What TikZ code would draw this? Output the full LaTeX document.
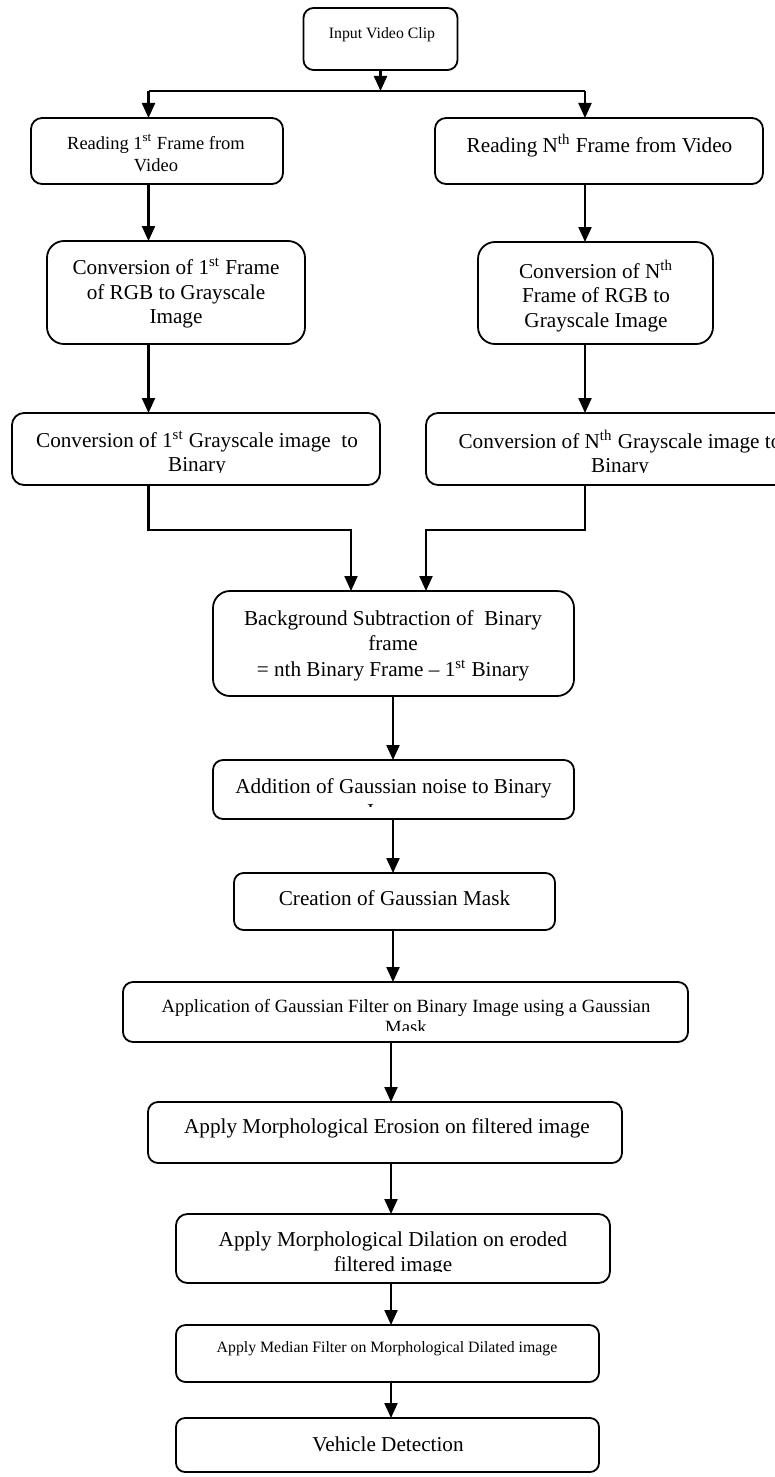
\documentclass[tikz,border=0pt]{standalone}
\usepackage{fontspec}
\setmainfont{Liberation Serif}
\usetikzlibrary{arrows.meta}
\begin{document}
\begin{tikzpicture}[x=0.5pt,y=-0.5pt,
  box/.style={draw=black, line width=0.9pt, inner sep=0pt, outer sep=0pt},
  arr/.style={line width=1.1pt, -{Triangle[width=6.5pt,length=7.5pt]}},
  ln/.style={line width=1.1pt},
  tL/.style={inner sep=0pt, anchor=north, align=center, font=\fontsize{10.6pt}{12.25pt}\selectfont},
  tB/.style={inner sep=0pt, anchor=north, align=center, font=\fontsize{10.6pt}{12.75pt}\selectfont},
  tM/.style={inner sep=0pt, anchor=north, align=center, font=\fontsize{9.25pt}{11pt}\selectfont},
  tA/.style={inner sep=0pt, anchor=north, align=center, font=\fontsize{9.35pt}{10.75pt}\selectfont},
  tS/.style={inner sep=0pt, anchor=north, align=center, font=\fontsize{7.9pt}{9pt}\selectfont}]
\fill[white] (0,0) rectangle (775,1477);
\useasboundingbox (0,0) rectangle (775,1477);

% boxes
\node[box, rounded corners=5pt, minimum width=77pt, minimum height=31pt] (in) at (380.5,39) {};
\node[box, rounded corners=5.5pt, minimum width=126pt, minimum height=33pt] (r1L) at (157,151) {};
\node[box, rounded corners=5.5pt, minimum width=164pt, minimum height=33pt] (r1R) at (599,151) {};
\node[box, rounded corners=8.5pt, minimum width=129pt, minimum height=51.5pt] (r2L) at (176,292.5) {};
\node[box, rounded corners=8.5pt, minimum width=117.5pt, minimum height=51pt] (r2R) at (595.5,293) {};
\node[box, rounded corners=6pt, minimum width=184pt, minimum height=36pt] (r3L) at (196,449) {};
\node[box, rounded corners=6pt, minimum width=194pt, minimum height=36pt] (r3R) at (620,449) {};
\node[box, rounded corners=8.5pt, minimum width=180.5pt, minimum height=52.5pt] (bg) at (393.5,643.5) {};
\node[box, rounded corners=5pt, minimum width=180.5pt, minimum height=29.5pt] (add) at (393.5,789.5) {};
\node[box, rounded corners=4.75pt, minimum width=160.5pt, minimum height=28.5pt] (cre) at (394.5,901.5) {};
\node[box, rounded corners=5pt, minimum width=282.5pt, minimum height=30pt] (app) at (405.5,1012) {};
\node[box, rounded corners=5pt, minimum width=237pt, minimum height=30.5pt] (ero) at (385,1132.5) {};
\node[box, rounded corners=5.75pt, minimum width=217pt, minimum height=34.5pt] (dil) at (393,1248.5) {};
\node[box, rounded corners=4.75pt, minimum width=211.5pt, minimum height=28.5pt] (med) at (387.5,1353.5) {};
\node[box, rounded corners=4.5pt, minimum width=211.5pt, minimum height=27pt] (veh) at (387.5,1445) {};

% texts
\node[tS] (tin) at (382,25.4) {\strut Input Video Clip};
\node[tM] (t1L) at (156,133.6) {\strut Reading 1\textsuperscript{st} Frame from\\Video};
\node[tL] (t1R) at (599.5,133.85) {\strut Reading N\textsuperscript{th} Frame from Video};
\node[tL] (t2L) at (176,257) {\strut Conversion of 1\textsuperscript{st} Frame\\of RGB to Grayscale\\Image};
\node[tL] (t2R) at (596,259.5) {\strut Conversion of N\textsuperscript{th}\\Frame of RGB to\\Grayscale Image};
\begin{scope}
\clip (r3L.north west) rectangle ([yshift=6.5pt]r3L.south east);
\node[tL] (t3L) at (197,429.5) {\strut Conversion of 1\textsuperscript{st} Grayscale image\ \ to\\Binary};
\end{scope}
\begin{scope}
\clip (r3R.north west) rectangle ([yshift=6.5pt]r3R.south east);
\node[tL] (t3R) at (620,429.5) {\strut Conversion of N\textsuperscript{th} Grayscale image to\\Binary};
\end{scope}
\node[tB] (tbg) at (393,607.2) {\strut Background Subtraction of\ \ Binary\\frame\\= nth Binary Frame \textendash{} 1\textsuperscript{st} Binary};
\begin{scope}
\clip (add.north west) rectangle ([yshift=6.5pt]add.south east);
\node[tL] (tadd) at (393.5,776.2) {\strut Addition of Gaussian noise to Binary\\Image};
\end{scope}
\node[tL] (tcre) at (394.5,887.85) {\strut Creation of Gaussian Mask};
\begin{scope}
\clip (app.north west) rectangle ([yshift=6pt]app.south east);
\node[tA] (tapp) at (406,997) {\strut Application of Gaussian Filter on Binary Image using a Gaussian\\Mask};
\end{scope}
\node[tL] (tero) at (387,1116.35) {\strut Apply Morphological Erosion on filtered image};
\begin{scope}
\clip (dil.north west) rectangle ([yshift=6pt]dil.south east);
\node[tL] (tdil) at (393,1229.35) {\strut Apply Morphological Dilation on eroded\\filtered image};
\end{scope}
\node[tS] (tmed) at (387,1339.4) {\strut Apply Median Filter on Morphological Dilated image};
\node[tL] (tveh) at (388,1433.85) {\strut Vehicle Detection};

% connectors
\coordinate (jl) at (148.5,91);
\coordinate (jr) at (585,91);
\coordinate (ml) at (351,530);
\coordinate (mr) at (426,530);
\coordinate (c1) at (393,0);
\coordinate (c2) at (391,0);
\draw[arr] (in.south) -- (in.south |- jl);
\draw[ln] (jl) -- (jr);
\draw[arr] (jl) -- (jl |- r1L.north);
\draw[arr] (jr) -- (jr |- r1R.north);
\draw[arr] (r1L.south -| jl) -- (r2L.north -| jl);
\draw[arr] (r1R.south -| jr) -- (r2R.north -| jr);
\draw[arr] (r2L.south -| jl) -- (r3L.north -| jl);
\draw[arr] (r2R.south -| jr) -- (r3R.north -| jr);
\draw[arr] (r3L.south -| jl) |- (ml) -- (ml |- bg.north);
\draw[arr] (r3R.south -| jr) |- (mr) -- (mr |- bg.north);
\draw[arr] (bg.south -| c1) -- (add.north -| c1);
\draw[arr] (add.south -| c1) -- (cre.north -| c1);
\draw[arr] (cre.south -| c1) -- (app.north -| c1);
\draw[arr] (app.south -| c2) -- (ero.north -| c2);
\draw[arr] (ero.south -| c2) -- (dil.north -| c2);
\draw[arr] (dil.south -| c2) -- (med.north -| c2);
\draw[arr] (med.south -| c2) -- (veh.north -| c2);
\end{tikzpicture}
\end{document}
